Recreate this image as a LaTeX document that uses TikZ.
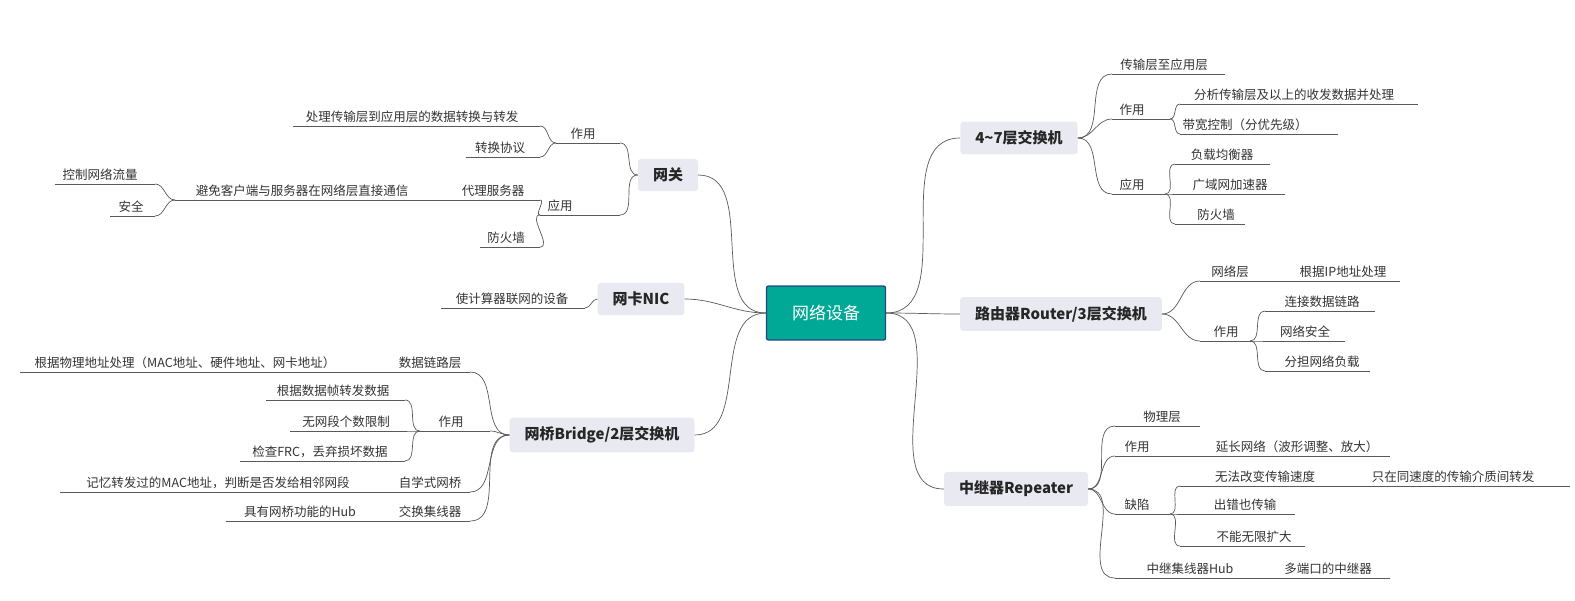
\documentclass[tikz,border=0pt]{standalone}
\usepackage{fontspec}
\setmainfont{Noto Sans CJK SC}
\definecolor{cfill}{RGB}{0,168,150}
\definecolor{cdraw}{RGB}{40,70,130}
\definecolor{mfill}{RGB}{233,234,241}
\newcommand\leafx[6]{\coordinate (#1-l) at (#2,#4);\coordinate (#1-r) at (#3,#4);
  \draw[ln] (#1-l) -- (#1-r);\node[lf] (#1) at (#5,#4-5) {#6};}
\newcommand\redge[2]{\draw[ln] (#1) to[out=0,in=180] (#2);}
\newcommand\ledge[2]{\draw[ln] (#1) to[out=180,in=0] (#2);}
\begin{document}
\begin{tikzpicture}[x=1pt,y=-1pt,
  ln/.style={draw=black!65,line width=0.7pt},
  lf/.style={text=black!80,font=\fontsize{12.5}{14}\selectfont,inner sep=0pt,anchor=base},
  mainn/.style={fill=mfill,rounded corners=3pt,font=\bfseries\fontsize{15}{17}\selectfont,text=black!85,inner xsep=15pt,inner ysep=9pt},
  cen/.style={fill=cfill,draw=cdraw,line width=1.4pt,rounded corners=2pt,text=white,font=\fontsize{17}{19}\selectfont,minimum width=119pt,minimum height=54pt}]
\useasboundingbox (0,0) rectangle (1575,600);

\node[cen] (c) at (826,313) {网络设备};
\node[mainn] (gw) at (668,175) {网关};
\node[mainn] (nic) at (641,299) {网卡NIC};
\node[mainn] (br) at (602,435) {网桥Bridge/2层交换机};
\node[mainn] (s47) at (1019,138) {4\textasciitilde7层交换机};
\node[mainn] (rt) at (1061,314) {路由器Router/3层交换机};
\node[mainn] (rp) at (1016,489) {中继器Repeater};

\ledge{c.west}{gw.east}\ledge{c.west}{nic.east}\ledge{c.west}{br.east}
\redge{c.east}{s47.west}\redge{c.east}{rt.west}\redge{c.east}{rp.west}

% gateway
\leafx{gz}{556}{620}{143}{583}{作用}
\leafx{gz1}{293}{540}{126}{412}{处理传输层到应用层的数据转换与转发}
\leafx{gz2}{466}{540}{157}{500}{转换协议}
\leafx{gy}{540}{620}{215}{560}{应用}
\leafx{gp}{440}{540}{200}{493}{代理服务器}
\leafx{gpa}{175}{440}{200}{302}{避免客户端与服务器在网络层直接通信}
\leafx{gpa1}{55}{155}{184}{100}{控制网络流量}
\leafx{gpa2}{110}{155}{216}{131}{安全}
\leafx{gf}{480}{540}{247}{506}{防火墙}
\ledge{gw.west}{gz-r}\ledge{gw.west}{gy-r}
\ledge{gz-l}{gz1-r}\ledge{gz-l}{gz2-r}
\ledge{gy-l}{gp-r}\ledge{gy-l}{gf-r}\ledge{gp-l}{gpa-r}
\ledge{gpa-l}{gpa1-r}\ledge{gpa-l}{gpa2-r}

% nic
\leafx{n1}{441}{585}{308}{512}{使计算器联网的设备}
\ledge{nic.west}{n1-r}

% bridge
\leafx{bd}{400}{470}{372}{430}{数据链路层}
\leafx{bda}{20}{400}{372}{185}{根据物理地址处理（MAC地址、硬件地址、网卡地址）}
\leafx{bz}{420}{490}{431}{451}{作用}
\leafx{bz1}{266}{405}{400}{333}{根据数据帧转发数据}
\leafx{bz2}{290}{405}{431}{346}{无网段个数限制}
\leafx{bz3}{240}{405}{461}{320}{检查FRC，丢弃损坏数据}
\leafx{bs}{400}{470}{492}{430}{自学式网桥}
\leafx{bsa}{60}{400}{492}{218}{记忆转发过的MAC地址，判断是否发给相邻网段}
\leafx{bh}{400}{470}{521}{430}{交换集线器}
\leafx{bha}{226}{400}{521}{300}{具有网桥功能的Hub}
\ledge{br.west}{bd-r}\ledge{br.west}{bz-r}\ledge{br.west}{bs-r}\ledge{br.west}{bh-r}
\ledge{bd-l}{bda-r}\ledge{bs-l}{bsa-r}\ledge{bh-l}{bha-r}
\ledge{bz-l}{bz1-r}\ledge{bz-l}{bz2-r}\ledge{bz-l}{bz3-r}

% 4-7 switch
\leafx{sa}{1112}{1225}{74}{1164}{传输层至应用层}
\leafx{sz}{1112}{1170}{119}{1132}{作用}
\leafx{sz1}{1180}{1418}{104}{1294}{分析传输层及以上的收发数据并处理}
\leafx{sz2}{1180}{1338}{134}{1245}{带宽控制（分优先级）}
\leafx{sy}{1112}{1165}{194}{1132}{应用}
\leafx{sy1}{1175}{1270}{164}{1222}{负载均衡器}
\leafx{sy2}{1175}{1285}{194}{1230}{广域网加速器}
\leafx{sy3}{1175}{1245}{224}{1216}{防火墙}
\redge{s47.east}{sa-l}\redge{s47.east}{sz-l}\redge{s47.east}{sy-l}
\redge{sz-r}{sz1-l}\redge{sz-r}{sz2-l}
\redge{sy-r}{sy1-l}\redge{sy-r}{sy2-l}\redge{sy-r}{sy3-l}

% router
\leafx{rn}{1200}{1285}{281}{1230}{网络层}
\leafx{rna}{1285}{1400}{281}{1343}{根据IP地址处理}
\leafx{rz}{1200}{1250}{341}{1226}{作用}
\leafx{rz1}{1265}{1375}{311}{1322}{连接数据链路}
\leafx{rz2}{1265}{1345}{341}{1305}{网络安全}
\leafx{rz3}{1265}{1370}{371}{1322}{分担网络负载}
\redge{rt.east}{rn-l}\redge{rt.east}{rz-l}\redge{rn-r}{rna-l}
\redge{rz-r}{rz1-l}\redge{rz-r}{rz2-l}\redge{rz-r}{rz3-l}

% repeater
\leafx{pw}{1115}{1200}{426}{1162}{物理层}
\leafx{pz}{1115}{1170}{456}{1137}{作用}
\leafx{pza}{1170}{1390}{456}{1297}{延长网络（波形调整、放大）}
\leafx{pq}{1115}{1170}{514}{1137}{缺陷}
\leafx{pq1}{1180}{1350}{486}{1265}{无法改变传输速度}
\leafx{pq1a}{1350}{1570}{486}{1453}{只在同速度的传输介质间转发}
\leafx{pq2}{1180}{1295}{514}{1245}{出错也传输}
\leafx{pq3}{1180}{1305}{546}{1254}{不能无限扩大}
\leafx{ph}{1115}{1265}{578}{1190}{中继集线器Hub}
\leafx{pha}{1265}{1390}{578}{1328}{多端口的中继器}
\redge{rp.east}{pw-l}\redge{rp.east}{pz-l}\redge{rp.east}{pq-l}\redge{rp.east}{ph-l}
\redge{pz-r}{pza-l}\redge{ph-r}{pha-l}\redge{pq1-r}{pq1a-l}
\redge{pq-r}{pq1-l}\redge{pq-r}{pq2-l}\redge{pq-r}{pq3-l}
\end{tikzpicture}
\end{document}
